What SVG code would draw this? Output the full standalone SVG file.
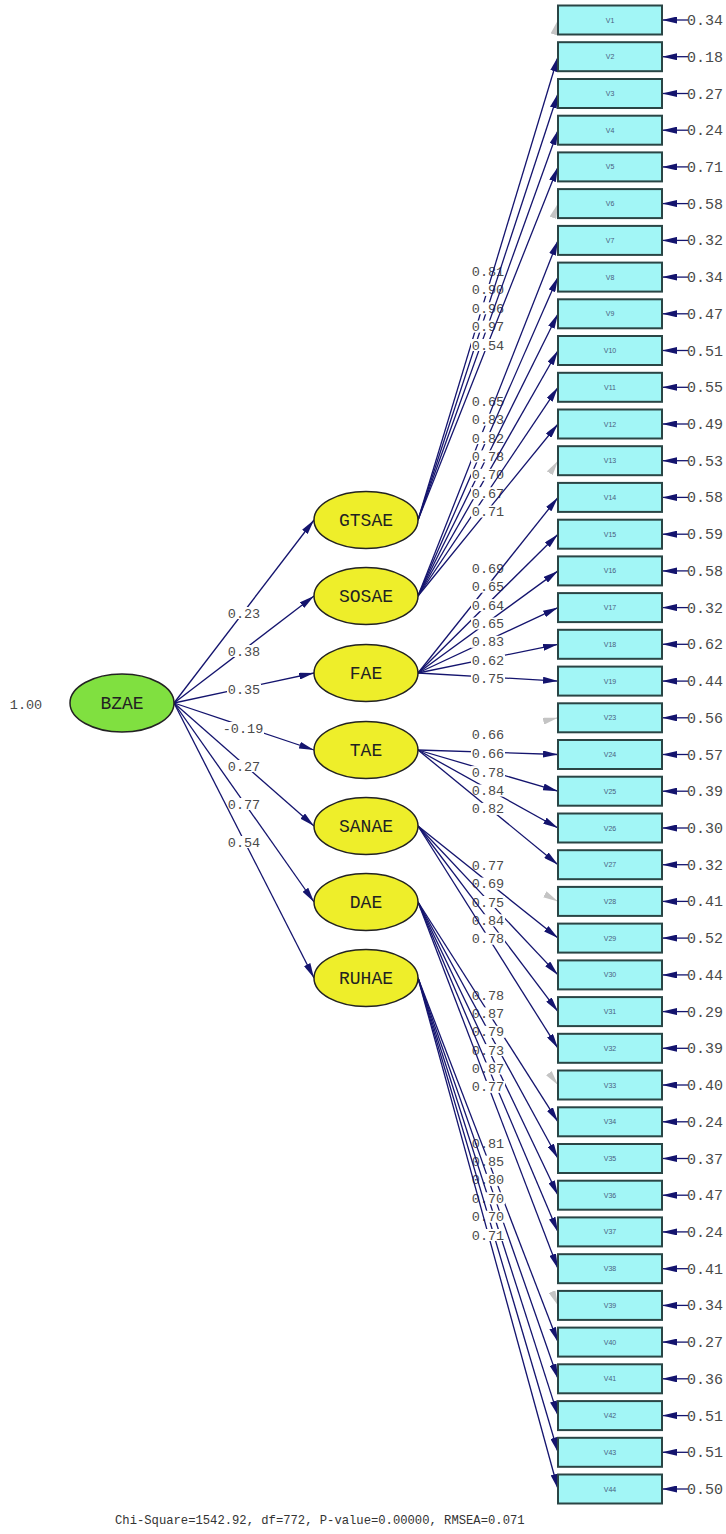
<svg xmlns="http://www.w3.org/2000/svg" width="726" height="1534" viewBox="0 0 726 1534">
<style>
.c{stroke:#14146e;stroke-width:1.3;fill:none;marker-end:url(#ah)}
.g{stroke:#c4c4c4;stroke-width:1;fill:none;marker-end:url(#ahg)}
.lat{fill:#eeee2a;stroke:#222;stroke-width:1.5}
.bz{fill:#80e040;stroke:#222;stroke-width:1.5}
.box{fill:#a2f6f6;stroke:#2a4545;stroke-width:2}
.lt{font-family:"Liberation Mono","DejaVu Sans Mono",monospace;font-size:18px;fill:#222;text-anchor:middle}
.vl{font-family:"Liberation Sans",Arial,sans-serif;font-size:7px;fill:#4a6080;text-anchor:middle}
.n{font-family:"Liberation Mono","DejaVu Sans Mono",monospace;font-size:13.5px;fill:#4a4a4a;text-anchor:middle}
.e{font-family:"Liberation Mono","DejaVu Sans Mono",monospace;font-size:15px;fill:#4a4a4a}
.lb{fill:#fff}
</style>
<defs>
<marker id="ah" markerUnits="userSpaceOnUse" markerWidth="15" markerHeight="7" refX="15" refY="3.5" orient="auto"><path d="M0,0 L15,3.5 L0,7 z" fill="#14146e"/></marker>
<marker id="ahg" markerUnits="userSpaceOnUse" markerWidth="15" markerHeight="7" refX="15" refY="3.5" orient="auto"><path d="M0,0 L15,3.5 L0,7 z" fill="#c4c4c4"/></marker>
</defs>
<rect width="726" height="1534" fill="#fff"/>

<g id="connectors">
<!-- structural -->
<g><line class="c" x1="174" y1="703" x2="314" y2="520"/><rect class="lb" x="227" y="607" width="34" height="12"/><text class="n" x="244" y="617.5">0.23</text></g>
<g><line class="c" x1="174" y1="703" x2="314" y2="596"/><rect class="lb" x="227" y="645" width="34" height="12"/><text class="n" x="244" y="655.5">0.38</text></g>
<g><line class="c" x1="174" y1="703" x2="314" y2="673"/><rect class="lb" x="227" y="683.5" width="34" height="12"/><text class="n" x="244" y="694">0.35</text></g>
<g><line class="c" x1="174" y1="703" x2="314" y2="750"/><rect class="lb" x="222" y="722" width="42" height="12"/><text class="n" x="243" y="732.5">-0.19</text></g>
<g><line class="c" x1="174" y1="703" x2="314" y2="826"/><rect class="lb" x="227" y="760" width="34" height="12"/><text class="n" x="244" y="770.5">0.27</text></g>
<g><line class="c" x1="174" y1="703" x2="314" y2="902"/><rect class="lb" x="227" y="798" width="34" height="12"/><text class="n" x="244" y="808.5">0.77</text></g>
<g><line class="c" x1="174" y1="703" x2="314" y2="978"/><rect class="lb" x="227" y="836" width="34" height="12"/><text class="n" x="244" y="846.5">0.54</text></g>

<!-- GTSAE -->
<g><line class="g" x1="557.46" y1="21.93" x2="558" y2="20"/><rect class="lb" x="471" y="265.5" width="34" height="12"/><text class="n" x="488" y="276">0.81</text></g>
<g><line class="c" x1="418" y1="520" x2="558" y2="56.7"/><rect class="lb" x="471" y="283.9" width="34" height="12"/><text class="n" x="488" y="294.4">0.90</text></g>
<g><line class="c" x1="418" y1="520" x2="558" y2="93.5"/><rect class="lb" x="471" y="302.3" width="34" height="12"/><text class="n" x="488" y="312.8">0.96</text></g>
<g><line class="c" x1="418" y1="520" x2="558" y2="130.2"/><rect class="lb" x="471" y="320.6" width="34" height="12"/><text class="n" x="488" y="331.1">0.97</text></g>
<g><line class="c" x1="418" y1="520" x2="558" y2="166.9"/><rect class="lb" x="471" y="339" width="34" height="12"/><text class="n" x="488" y="349.5">0.54</text></g>

<!-- SOSAE -->
<g><line class="g" x1="557.33" y1="205.48" x2="558" y2="203.6"/><rect class="lb" x="471" y="395.3" width="34" height="12"/><text class="n" x="488" y="405.8">0.65</text></g>
<g><line class="c" x1="418" y1="596" x2="558" y2="240.4"/><rect class="lb" x="471" y="413.7" width="34" height="12"/><text class="n" x="488" y="424.2">0.83</text></g>
<g><line class="c" x1="418" y1="596" x2="558" y2="277.1"/><rect class="lb" x="471" y="432.1" width="34" height="12"/><text class="n" x="488" y="442.6">0.82</text></g>
<g><line class="c" x1="418" y1="596" x2="558" y2="313.8"/><rect class="lb" x="471" y="450.4" width="34" height="12"/><text class="n" x="488" y="460.9">0.78</text></g>
<g><line class="c" x1="418" y1="596" x2="558" y2="350.5"/><rect class="lb" x="471" y="468.8" width="34" height="12"/><text class="n" x="488" y="479.3">0.70</text></g>
<g><line class="c" x1="418" y1="596" x2="558" y2="387.3"/><rect class="lb" x="471" y="487.2" width="34" height="12"/><text class="n" x="488" y="497.7">0.67</text></g>
<g><line class="c" x1="418" y1="596" x2="558" y2="424"/><rect class="lb" x="471" y="505.5" width="34" height="12"/><text class="n" x="488" y="516">0.71</text></g>

<!-- FAE -->
<g><line class="g" x1="556.9" y1="462.37" x2="558" y2="460.7"/><rect class="lb" x="471" y="562.4" width="34" height="12"/><text class="n" x="488" y="572.9">0.69</text></g>
<g><line class="c" x1="418" y1="673" x2="558" y2="497.4"/><rect class="lb" x="471" y="580.7" width="34" height="12"/><text class="n" x="488" y="591.2">0.65</text></g>
<g><line class="c" x1="418" y1="673" x2="558" y2="534.2"/><rect class="lb" x="471" y="599.1" width="34" height="12"/><text class="n" x="488" y="609.6">0.64</text></g>
<g><line class="c" x1="418" y1="673" x2="558" y2="570.9"/><rect class="lb" x="471" y="617.5" width="34" height="12"/><text class="n" x="488" y="628">0.65</text></g>
<g><line class="c" x1="418" y1="673" x2="558" y2="607.6"/><rect class="lb" x="471" y="635.8" width="34" height="12"/><text class="n" x="488" y="646.3">0.83</text></g>
<g><line class="c" x1="418" y1="673" x2="558" y2="644.3"/><rect class="lb" x="471" y="654.2" width="34" height="12"/><text class="n" x="488" y="664.7">0.62</text></g>
<g><line class="c" x1="418" y1="673" x2="558" y2="681.1"/><rect class="lb" x="471" y="672.6" width="34" height="12"/><text class="n" x="488" y="683.1">0.75</text></g>

<!-- TAE -->
<g><line class="g" x1="556.05" y1="718.25" x2="558" y2="717.8"/><rect class="lb" x="471" y="728.4" width="34" height="12"/><text class="n" x="488" y="738.9">0.66</text></g>
<g><line class="c" x1="418" y1="750" x2="558" y2="754.5"/><rect class="lb" x="471" y="747.8" width="34" height="12"/><text class="n" x="488" y="758.3">0.66</text></g>
<g><line class="c" x1="418" y1="750" x2="558" y2="791.2"/><rect class="lb" x="471" y="766.1" width="34" height="12"/><text class="n" x="488" y="776.6">0.78</text></g>
<g><line class="c" x1="418" y1="750" x2="558" y2="828"/><rect class="lb" x="471" y="784.5" width="34" height="12"/><text class="n" x="488" y="795">0.84</text></g>
<g><line class="c" x1="418" y1="750" x2="558" y2="864.7"/><rect class="lb" x="471" y="802.9" width="34" height="12"/><text class="n" x="488" y="813.4">0.82</text></g>

<!-- SANAE -->
<g><line class="g" x1="556.24" y1="900.45" x2="558" y2="901.4"/><rect class="lb" x="471" y="859.2" width="34" height="12"/><text class="n" x="488" y="869.7">0.77</text></g>
<g><line class="c" x1="418" y1="826" x2="558" y2="938.1"/><rect class="lb" x="471" y="877.6" width="34" height="12"/><text class="n" x="488" y="888.1">0.69</text></g>
<g><line class="c" x1="418" y1="826" x2="558" y2="974.9"/><rect class="lb" x="471" y="896" width="34" height="12"/><text class="n" x="488" y="906.5">0.75</text></g>
<g><line class="c" x1="418" y1="826" x2="558" y2="1011.6"/><rect class="lb" x="471" y="914.3" width="34" height="12"/><text class="n" x="488" y="924.8">0.84</text></g>
<g><line class="c" x1="418" y1="826" x2="558" y2="1048.3"/><rect class="lb" x="471" y="932.7" width="34" height="12"/><text class="n" x="488" y="943.2">0.78</text></g>

<!-- DAE -->
<g><line class="g" x1="556.78" y1="1083.41" x2="558" y2="1085"/><rect class="lb" x="471" y="989" width="34" height="12"/><text class="n" x="488" y="999.5">0.78</text></g>
<g><line class="c" x1="418" y1="902" x2="558" y2="1121.8"/><rect class="lb" x="471" y="1007.4" width="34" height="12"/><text class="n" x="488" y="1017.9">0.87</text></g>
<g><line class="c" x1="418" y1="902" x2="558" y2="1158.5"/><rect class="lb" x="471" y="1025.8" width="34" height="12"/><text class="n" x="488" y="1036.3">0.79</text></g>
<g><line class="c" x1="418" y1="902" x2="558" y2="1195.2"/><rect class="lb" x="471" y="1044.1" width="34" height="12"/><text class="n" x="488" y="1054.6">0.73</text></g>
<g><line class="c" x1="418" y1="902" x2="558" y2="1231.9"/><rect class="lb" x="471" y="1062.5" width="34" height="12"/><text class="n" x="488" y="1073">0.87</text></g>
<g><line class="c" x1="418" y1="902" x2="558" y2="1268.7"/><rect class="lb" x="471" y="1080.9" width="34" height="12"/><text class="n" x="488" y="1091.4">0.77</text></g>

<!-- RUHAE -->
<g><line class="g" x1="557.21" y1="1303.56" x2="558" y2="1305.4"/><rect class="lb" x="471" y="1137.2" width="34" height="12"/><text class="n" x="488" y="1147.7">0.81</text></g>
<g><line class="c" x1="418" y1="978" x2="558" y2="1342.1"/><rect class="lb" x="471" y="1155.6" width="34" height="12"/><text class="n" x="488" y="1166.1">0.85</text></g>
<g><line class="c" x1="418" y1="978" x2="558" y2="1378.8"/><rect class="lb" x="471" y="1173.9" width="34" height="12"/><text class="n" x="488" y="1184.4">0.80</text></g>
<g><line class="c" x1="418" y1="978" x2="558" y2="1415.6"/><rect class="lb" x="471" y="1192.3" width="34" height="12"/><text class="n" x="488" y="1202.8">0.70</text></g>
<g><line class="c" x1="418" y1="978" x2="558" y2="1452.3"/><rect class="lb" x="471" y="1210.7" width="34" height="12"/><text class="n" x="488" y="1221.2">0.70</text></g>
<g><line class="c" x1="418" y1="978" x2="558" y2="1489"/><rect class="lb" x="471" y="1229" width="34" height="12"/><text class="n" x="488" y="1239.5">0.71</text></g>

<!-- error terms -->
<g><line class="c" x1="688" y1="20" x2="662" y2="20"/><text class="e" x="687" y="25">0.34</text></g>
<g><line class="c" x1="688" y1="56.7" x2="662" y2="56.7"/><text class="e" x="687" y="61.7">0.18</text></g>
<g><line class="c" x1="688" y1="93.5" x2="662" y2="93.5"/><text class="e" x="687" y="98.5">0.27</text></g>
<g><line class="c" x1="688" y1="130.2" x2="662" y2="130.2"/><text class="e" x="687" y="135.2">0.24</text></g>
<g><line class="c" x1="688" y1="166.9" x2="662" y2="166.9"/><text class="e" x="687" y="171.9">0.71</text></g>
<g><line class="c" x1="688" y1="203.6" x2="662" y2="203.6"/><text class="e" x="687" y="208.6">0.58</text></g>
<g><line class="c" x1="688" y1="240.4" x2="662" y2="240.4"/><text class="e" x="687" y="245.4">0.32</text></g>
<g><line class="c" x1="688" y1="277.1" x2="662" y2="277.1"/><text class="e" x="687" y="282.1">0.34</text></g>
<g><line class="c" x1="688" y1="313.8" x2="662" y2="313.8"/><text class="e" x="687" y="318.8">0.47</text></g>
<g><line class="c" x1="688" y1="350.5" x2="662" y2="350.5"/><text class="e" x="687" y="355.5">0.51</text></g>
<g><line class="c" x1="688" y1="387.3" x2="662" y2="387.3"/><text class="e" x="687" y="392.3">0.55</text></g>
<g><line class="c" x1="688" y1="424" x2="662" y2="424"/><text class="e" x="687" y="429">0.49</text></g>
<g><line class="c" x1="688" y1="460.7" x2="662" y2="460.7"/><text class="e" x="687" y="465.7">0.53</text></g>
<g><line class="c" x1="688" y1="497.4" x2="662" y2="497.4"/><text class="e" x="687" y="502.4">0.58</text></g>
<g><line class="c" x1="688" y1="534.2" x2="662" y2="534.2"/><text class="e" x="687" y="539.2">0.59</text></g>
<g><line class="c" x1="688" y1="570.9" x2="662" y2="570.9"/><text class="e" x="687" y="575.9">0.58</text></g>
<g><line class="c" x1="688" y1="607.6" x2="662" y2="607.6"/><text class="e" x="687" y="612.6">0.32</text></g>
<g><line class="c" x1="688" y1="644.3" x2="662" y2="644.3"/><text class="e" x="687" y="649.3">0.62</text></g>
<g><line class="c" x1="688" y1="681.1" x2="662" y2="681.1"/><text class="e" x="687" y="686.1">0.44</text></g>
<g><line class="c" x1="688" y1="717.8" x2="662" y2="717.8"/><text class="e" x="687" y="722.8">0.56</text></g>
<g><line class="c" x1="688" y1="754.5" x2="662" y2="754.5"/><text class="e" x="687" y="759.5">0.57</text></g>
<g><line class="c" x1="688" y1="791.2" x2="662" y2="791.2"/><text class="e" x="687" y="796.2">0.39</text></g>
<g><line class="c" x1="688" y1="828" x2="662" y2="828"/><text class="e" x="687" y="833">0.30</text></g>
<g><line class="c" x1="688" y1="864.7" x2="662" y2="864.7"/><text class="e" x="687" y="869.7">0.32</text></g>
<g><line class="c" x1="688" y1="901.4" x2="662" y2="901.4"/><text class="e" x="687" y="906.4">0.41</text></g>
<g><line class="c" x1="688" y1="938.1" x2="662" y2="938.1"/><text class="e" x="687" y="943.1">0.52</text></g>
<g><line class="c" x1="688" y1="974.9" x2="662" y2="974.9"/><text class="e" x="687" y="979.9">0.44</text></g>
<g><line class="c" x1="688" y1="1011.6" x2="662" y2="1011.6"/><text class="e" x="687" y="1016.6">0.29</text></g>
<g><line class="c" x1="688" y1="1048.3" x2="662" y2="1048.3"/><text class="e" x="687" y="1053.3">0.39</text></g>
<g><line class="c" x1="688" y1="1085" x2="662" y2="1085"/><text class="e" x="687" y="1090">0.40</text></g>
<g><line class="c" x1="688" y1="1121.8" x2="662" y2="1121.8"/><text class="e" x="687" y="1126.8">0.24</text></g>
<g><line class="c" x1="688" y1="1158.5" x2="662" y2="1158.5"/><text class="e" x="687" y="1163.5">0.37</text></g>
<g><line class="c" x1="688" y1="1195.2" x2="662" y2="1195.2"/><text class="e" x="687" y="1200.2">0.47</text></g>
<g><line class="c" x1="688" y1="1231.9" x2="662" y2="1231.9"/><text class="e" x="687" y="1236.9">0.24</text></g>
<g><line class="c" x1="688" y1="1268.7" x2="662" y2="1268.7"/><text class="e" x="687" y="1273.7">0.41</text></g>
<g><line class="c" x1="688" y1="1305.4" x2="662" y2="1305.4"/><text class="e" x="687" y="1310.4">0.34</text></g>
<g><line class="c" x1="688" y1="1342.1" x2="662" y2="1342.1"/><text class="e" x="687" y="1347.1">0.27</text></g>
<g><line class="c" x1="688" y1="1378.8" x2="662" y2="1378.8"/><text class="e" x="687" y="1383.8">0.36</text></g>
<g><line class="c" x1="688" y1="1415.6" x2="662" y2="1415.6"/><text class="e" x="687" y="1420.6">0.51</text></g>
<g><line class="c" x1="688" y1="1452.3" x2="662" y2="1452.3"/><text class="e" x="687" y="1457.3">0.51</text></g>
<g><line class="c" x1="688" y1="1489" x2="662" y2="1489"/><text class="e" x="687" y="1494">0.50</text></g>
</g>

<!-- latent nodes -->
<g id="BZAE"><ellipse class="bz" cx="122" cy="703" rx="52" ry="29"/><text class="lt" x="122" y="709">BZAE</text><text class="n" x="26" y="708.5">1.00</text></g>
<g id="GTSAE"><ellipse class="lat" cx="366" cy="520" rx="52" ry="28.5"/><text class="lt" x="366" y="526">GTSAE</text></g>
<g id="SOSAE"><ellipse class="lat" cx="366" cy="596" rx="52" ry="28.5"/><text class="lt" x="366" y="602">SOSAE</text></g>
<g id="FAE"><ellipse class="lat" cx="366" cy="673" rx="52" ry="28.5"/><text class="lt" x="366" y="679">FAE</text></g>
<g id="TAE"><ellipse class="lat" cx="366" cy="750" rx="52" ry="28.5"/><text class="lt" x="366" y="756">TAE</text></g>
<g id="SANAE"><ellipse class="lat" cx="366" cy="826" rx="52" ry="28.5"/><text class="lt" x="366" y="832">SANAE</text></g>
<g id="DAE"><ellipse class="lat" cx="366" cy="902" rx="52" ry="28.5"/><text class="lt" x="366" y="908">DAE</text></g>
<g id="RUHAE"><ellipse class="lat" cx="366" cy="978" rx="52" ry="28.5"/><text class="lt" x="366" y="984">RUHAE</text></g>

<!-- observed nodes -->
<g id="V1"><rect class="box" x="558" y="5.5" width="104" height="29"/><text class="vl" x="610" y="22.5">V1</text></g>
<g id="V2"><rect class="box" x="558" y="42.2" width="104" height="29"/><text class="vl" x="610" y="59.2">V2</text></g>
<g id="V3"><rect class="box" x="558" y="79" width="104" height="29"/><text class="vl" x="610" y="96">V3</text></g>
<g id="V4"><rect class="box" x="558" y="115.7" width="104" height="29"/><text class="vl" x="610" y="132.7">V4</text></g>
<g id="V5"><rect class="box" x="558" y="152.4" width="104" height="29"/><text class="vl" x="610" y="169.4">V5</text></g>
<g id="V6"><rect class="box" x="558" y="189.1" width="104" height="29"/><text class="vl" x="610" y="206.1">V6</text></g>
<g id="V7"><rect class="box" x="558" y="225.9" width="104" height="29"/><text class="vl" x="610" y="242.9">V7</text></g>
<g id="V8"><rect class="box" x="558" y="262.6" width="104" height="29"/><text class="vl" x="610" y="279.6">V8</text></g>
<g id="V9"><rect class="box" x="558" y="299.3" width="104" height="29"/><text class="vl" x="610" y="316.3">V9</text></g>
<g id="V10"><rect class="box" x="558" y="336" width="104" height="29"/><text class="vl" x="610" y="353">V10</text></g>
<g id="V11"><rect class="box" x="558" y="372.8" width="104" height="29"/><text class="vl" x="610" y="389.8">V11</text></g>
<g id="V12"><rect class="box" x="558" y="409.5" width="104" height="29"/><text class="vl" x="610" y="426.5">V12</text></g>
<g id="V13"><rect class="box" x="558" y="446.2" width="104" height="29"/><text class="vl" x="610" y="463.2">V13</text></g>
<g id="V14"><rect class="box" x="558" y="482.9" width="104" height="29"/><text class="vl" x="610" y="499.9">V14</text></g>
<g id="V15"><rect class="box" x="558" y="519.7" width="104" height="29"/><text class="vl" x="610" y="536.7">V15</text></g>
<g id="V16"><rect class="box" x="558" y="556.4" width="104" height="29"/><text class="vl" x="610" y="573.4">V16</text></g>
<g id="V17"><rect class="box" x="558" y="593.1" width="104" height="29"/><text class="vl" x="610" y="610.1">V17</text></g>
<g id="V18"><rect class="box" x="558" y="629.8" width="104" height="29"/><text class="vl" x="610" y="646.8">V18</text></g>
<g id="V19"><rect class="box" x="558" y="666.6" width="104" height="29"/><text class="vl" x="610" y="683.6">V19</text></g>
<g id="V23"><rect class="box" x="558" y="703.3" width="104" height="29"/><text class="vl" x="610" y="720.3">V23</text></g>
<g id="V24"><rect class="box" x="558" y="740" width="104" height="29"/><text class="vl" x="610" y="757">V24</text></g>
<g id="V25"><rect class="box" x="558" y="776.7" width="104" height="29"/><text class="vl" x="610" y="793.7">V25</text></g>
<g id="V26"><rect class="box" x="558" y="813.5" width="104" height="29"/><text class="vl" x="610" y="830.5">V26</text></g>
<g id="V27"><rect class="box" x="558" y="850.2" width="104" height="29"/><text class="vl" x="610" y="867.2">V27</text></g>
<g id="V28"><rect class="box" x="558" y="886.9" width="104" height="29"/><text class="vl" x="610" y="903.9">V28</text></g>
<g id="V29"><rect class="box" x="558" y="923.6" width="104" height="29"/><text class="vl" x="610" y="940.6">V29</text></g>
<g id="V30"><rect class="box" x="558" y="960.4" width="104" height="29"/><text class="vl" x="610" y="977.4">V30</text></g>
<g id="V31"><rect class="box" x="558" y="997.1" width="104" height="29"/><text class="vl" x="610" y="1014.1">V31</text></g>
<g id="V32"><rect class="box" x="558" y="1033.8" width="104" height="29"/><text class="vl" x="610" y="1050.8">V32</text></g>
<g id="V33"><rect class="box" x="558" y="1070.5" width="104" height="29"/><text class="vl" x="610" y="1087.5">V33</text></g>
<g id="V34"><rect class="box" x="558" y="1107.3" width="104" height="29"/><text class="vl" x="610" y="1124.3">V34</text></g>
<g id="V35"><rect class="box" x="558" y="1144" width="104" height="29"/><text class="vl" x="610" y="1161">V35</text></g>
<g id="V36"><rect class="box" x="558" y="1180.7" width="104" height="29"/><text class="vl" x="610" y="1197.7">V36</text></g>
<g id="V37"><rect class="box" x="558" y="1217.4" width="104" height="29"/><text class="vl" x="610" y="1234.4">V37</text></g>
<g id="V38"><rect class="box" x="558" y="1254.2" width="104" height="29"/><text class="vl" x="610" y="1271.2">V38</text></g>
<g id="V39"><rect class="box" x="558" y="1290.9" width="104" height="29"/><text class="vl" x="610" y="1307.9">V39</text></g>
<g id="V40"><rect class="box" x="558" y="1327.6" width="104" height="29"/><text class="vl" x="610" y="1344.6">V40</text></g>
<g id="V41"><rect class="box" x="558" y="1364.3" width="104" height="29"/><text class="vl" x="610" y="1381.3">V41</text></g>
<g id="V42"><rect class="box" x="558" y="1401.1" width="104" height="29"/><text class="vl" x="610" y="1418.1">V42</text></g>
<g id="V43"><rect class="box" x="558" y="1437.8" width="104" height="29"/><text class="vl" x="610" y="1454.8">V43</text></g>
<g id="V44"><rect class="box" x="558" y="1474.5" width="104" height="29"/><text class="vl" x="610" y="1491.5">V44</text></g>

<text x="115" y="1524" style="font-family:'Liberation Mono','DejaVu Sans Mono',monospace;font-size:12.2px;fill:#333">Chi-Square=1542.92, df=772, P-value=0.00000, RMSEA=0.071</text>
</svg>
